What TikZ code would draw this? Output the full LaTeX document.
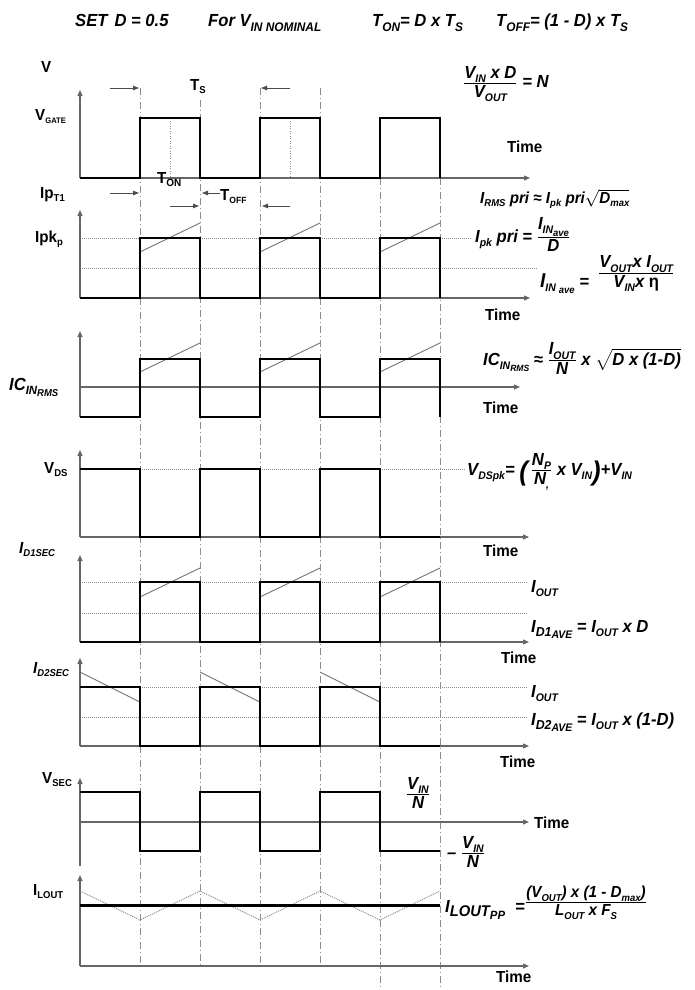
\documentclass[tikz,border=0pt]{standalone}
\usepackage{amsmath}
\usepackage{fontspec}
\setmainfont{Liberation Sans}[FakeStretch=0.95]
\usetikzlibrary{arrows.meta}
\newcommand\lsub[2][9]{\raisebox{-0.45ex}{\fontsize{#1}{#1}\selectfont #2}}
\newcommand\lssub[2][8]{\raisebox{-0.4ex}{\fontsize{#1}{#1}\selectfont #2}}
\newcommand\lfrac[2]{\genfrac{}{}{1pt}{}{\hbox{#1}}{\hbox{#2}}}
\newcommand\bigparen[1]{\raisebox{-5pt}{\fontsize{27}{27}\selectfont #1}}
\begin{document}
\begin{tikzpicture}[x=1pt,y=-1pt,
  lab/.style={font=\fontsize{16}{18}\selectfont\bfseries, inner sep=0pt, anchor=base west},
  form/.style={font=\fontsize{17.5}{19}\selectfont\bfseries\itshape, inner sep=0pt, anchor=base west},
  smallform/.style={font=\fontsize{16}{18}\selectfont\bfseries\itshape, inner sep=0pt, anchor=base west},
  wave/.style={line width=2.6pt, line join=miter, line cap=butt},
  axline/.style={line width=1.1pt, black!60, -{Triangle[length=6pt,width=5pt]}},
  rampline/.style={line width=0.9pt, black!55},
  refline/.style={line width=1pt, black!45, dash pattern=on 1pt off 1pt},
  vline/.style={line width=0.8pt, black!45, dash pattern=on 7pt off 3pt on 1pt off 3pt},
  tmark/.style={line width=1pt, black!70, -{Triangle[length=6pt,width=4.5pt]}},
  midline/.style={line width=0.8pt, black!45, dash pattern=on 1pt off 1.5pt},
]
\useasboundingbox (0,0) rectangle (695,990);

% header
\node[form] (h1) at (75,27) {SET\hspace{7pt}D = 0.5};
\node[form] (h2) at (208,27) {For V\lsub[12.5]{IN NOMINAL}};
\node[form] (h3) at (372,27) {T\lsub[12.5]{ON}= D x T\lsub[12.5]{S}};
\node[form] (h4) at (496,27) {T\lsub[12.5]{OFF}= (1 - D) x T\lsub[12.5]{S}};

% vertical dash-dot time lines
\draw[vline] (140,88) -- (140,966);
\draw[vline] (200,100) -- (200,966);
\draw[vline] (260,88) -- (260,966);
\draw[vline] (320,88) -- (320,966);
\draw[vline] (380,178) -- (380,990);
\draw[vline] (440,178) -- (440,990);

% time markers
\draw[tmark] (110,88) -- (139,88);
\draw[tmark] (290,88) -- (261,88);
\draw[tmark] (110,193) -- (139,193);
\draw[tmark] (220,193) -- (202,193);
\draw[tmark] (170,206) -- (199,206);
\draw[tmark] (290,206) -- (262,206);

% ---------- VGATE ----------
\draw[midline] (170,118) -- (170,178);
\draw[midline] (290,118) -- (290,178);
\draw[axline] (80,178) -- (80,90);
\draw[axline] (80,178) -- (530,178);
\draw[wave] (80,178) -- (140,178) -- (140,118) -- (200,118) -- (200,178) -- (260,178) -- (260,118) -- (320,118) -- (320,178) -- (380,178) -- (380,118) -- (440,118) -- (440,178);
\node[lab] (v) at (41,72) {V};
\node[lab] (ts) at (190,90) {T\lsub[10]{S}};
\node[lab] (vgate) at (35,120) {V\lsub[8]{GATE}};
\node[lab] (ton) at (157,183) {T\lsub[10.5]{ON}};
\node[lab] (ipt1) at (40,198) {Ip\lsub[10]{T1}};
\node[lab] (toff) at (220,200) {T\lsub[9]{OFF}};
\node[lab] (time1) at (507,152) {Time};
\node[form] (f1) at (463,88) {$\lfrac{V\lsub[11]{IN} x D}{V\lsub[11]{OUT}}$ = N};
\node[smallform] (f2) at (480,203) {I\lsub[10]{RMS} pri ≈ I\lsub[10]{pk} pri$\sqrt{\hbox{D\lsub[10]{max}}}$};

% ---------- Ipk ----------
\draw[refline] (80,238) -- (472,238);
\draw[refline] (80,268) -- (537,268);
\foreach \xa in {140,260,380} \draw[rampline] (\xa,252) -- (\xa+60,223);
\draw[axline] (80,298) -- (80,210);
\draw[axline] (80,298) -- (530,298);
\draw[wave] (80,298) -- (140,298) -- (140,238) -- (200,238) -- (200,298) -- (260,298) -- (260,238) -- (320,238) -- (320,298) -- (380,298) -- (380,238) -- (440,238) -- (440,298);
\node[lab] (ipk) at (35,242) {Ipk\lsub[10]{p}};
\node[lab] (time2) at (485,320) {Time};
\node[form] (f3) at (475,242) {I\lsub[11]{pk} pri = $\lfrac{I\lsub[11]{IN\lssub[10]{ave}}}{D}$};
\node[form] (f4a) at (540,287) {{\fontsize{20}{20}\selectfont I}\lsub[11]{IN \lssub[10]{ave}} =};
\node[form] (f4b) at (598,278) {$\lfrac{V\lsub[11]{OUT}x I\lsub[11]{OUT}}{V\lsub[11]{IN}x {\upshape η}}$};

% ---------- ICIN ----------
\foreach \xa in {140,260,380} \draw[rampline] (\xa,372) -- (\xa+60,343);
\draw[axline] (80,417) -- (80,331);
\draw[axline] (80,387) -- (520,387);
\draw[wave] (80,417) -- (140,417) -- (140,359) -- (200,359) -- (200,417) -- (260,417) -- (260,359) -- (320,359) -- (320,417) -- (380,417) -- (380,359) -- (440,359) -- (440,417);
\node[form] (icin) at (9,390) {IC\lsub[12]{IN\lssub[10]{RMS}}};
\node[lab] (time3) at (483,413) {Time};
\node[form] (f5) at (483,365) {IC\lsub[11]{IN\lssub[9]{RMS}} ≈ $\lfrac{I\lsub[11]{OUT}}{N}$ x $\sqrt{\hbox{D x (1-D)}}$};

% ---------- VDS ----------
\draw[refline] (80,469) -- (465,469);
\draw[axline] (80,537) -- (80,450);
\draw[axline] (80,537) -- (529,537);
\draw[wave] (80,469) -- (140,469) -- (140,537) -- (200,537) -- (200,469) -- (260,469) -- (260,537) -- (320,537) -- (320,469) -- (380,469) -- (380,537) -- (440,537);
\node[lab] (vds) at (44,473) {V\lsub[10]{DS}};
\node[lab] (time4) at (483,556) {Time};
\node[form] (f6) at (467,475) {V\lsub[11]{DSpk}= \bigparen{(}\,$\lfrac{N\lsub[11]{P}}{N\lsub[11]{,}}$ x V\lsub[11]{IN}\bigparen{)}+V\lsub[11]{IN}};

% ---------- D1SEC ----------
\draw[refline] (80,582) -- (527,582);
\draw[refline] (80,613) -- (527,613);
\foreach \xa in {140,260,380} \draw[rampline] (\xa,597) -- (\xa+60,568);
\draw[axline] (80,642) -- (80,555);
\draw[axline] (80,642) -- (529,642);
\draw[wave] (80,642) -- (140,642) -- (140,582) -- (200,582) -- (200,642) -- (260,642) -- (260,582) -- (320,582) -- (320,642) -- (380,642) -- (380,582) -- (440,582) -- (440,642);
\node[smallform] (id1) at (19,553) {I\lsub[10]{D1SEC}};
\node[form] (iout1) at (531,592) {I\lsub[11]{OUT}};
\node[form] (f7) at (531,632) {I\lsub[13]{D1\lssub[11]{AVE}} = I\lsub[11]{OUT} x D};
\node[lab] (time5) at (501,663) {Time};

% ---------- D2SEC ----------
\draw[refline] (80,687) -- (527,687);
\draw[refline] (80,717) -- (527,717);
\foreach \xa in {80,200,320} \draw[rampline] (\xa,672) -- (\xa+60,702);
\draw[axline] (80,746) -- (80,658);
\draw[axline] (80,746) -- (529,746);
\draw[wave] (80,687) -- (140,687) -- (140,746) -- (200,746) -- (200,687) -- (260,687) -- (260,746) -- (320,746) -- (320,687) -- (380,687) -- (380,746) -- (440,746);
\node[smallform] (id2) at (33,673) {I\lsub[10]{D2SEC}};
\node[form] (iout2) at (531,697) {I\lsub[11]{OUT}};
\node[form] (f8) at (531,725) {I\lsub[13]{D2\lssub[11]{AVE}} = I\lsub[11]{OUT} x (1-D)};
\node[lab] (time6) at (500,767) {Time};

% ---------- VSEC ----------
\draw[axline] (80,866) -- (80,778);
\draw[axline] (80,822) -- (529,822);
\draw[wave] (80,792) -- (140,792) -- (140,851) -- (200,851) -- (200,792) -- (260,792) -- (260,851) -- (320,851) -- (320,792) -- (380,792) -- (380,851) -- (440,851);
\node[lab] (vsec) at (42,783) {V\lsub[10]{SEC}};
\node[lab] (time7) at (534,828) {Time};
\node[form, anchor=base] (f9a) at (418,799) {$\lfrac{V\lsub[11]{IN}}{N}$};
\node[form, anchor=base] (f9b) at (466,858) {– $\lfrac{V\lsub[11]{IN}}{N}$};

% ---------- ILOUT ----------
\draw[refline] (80,891) -- (140,920) -- (200,891) -- (260,920) -- (320,891) -- (380,920) -- (440,891);
\draw[axline] (80,966) -- (80,875);
\draw[axline] (80,966) -- (529,966);
\draw[line width=3pt] (80,905) -- (440,905);
\node[lab] (ilout) at (33,895) {I\lsub[10]{LOUT}};
\node[lab] (time8) at (496,982) {Time};
\node[form] (f10a) at (445,912) {I\lsub[15.5]{LOUT\lssub[12]{PP}}};
\node[form] (f10eq) at (515,912) {=};
\node[smallform, anchor=base] (f10b) at (586,907) {$\lfrac{(V\lsub[10]{OUT}) x (1 - D\lsub[10]{max})}{L\lsub[10]{OUT} x F\lsub[10]{S}}$};
\end{tikzpicture}
\end{document}
